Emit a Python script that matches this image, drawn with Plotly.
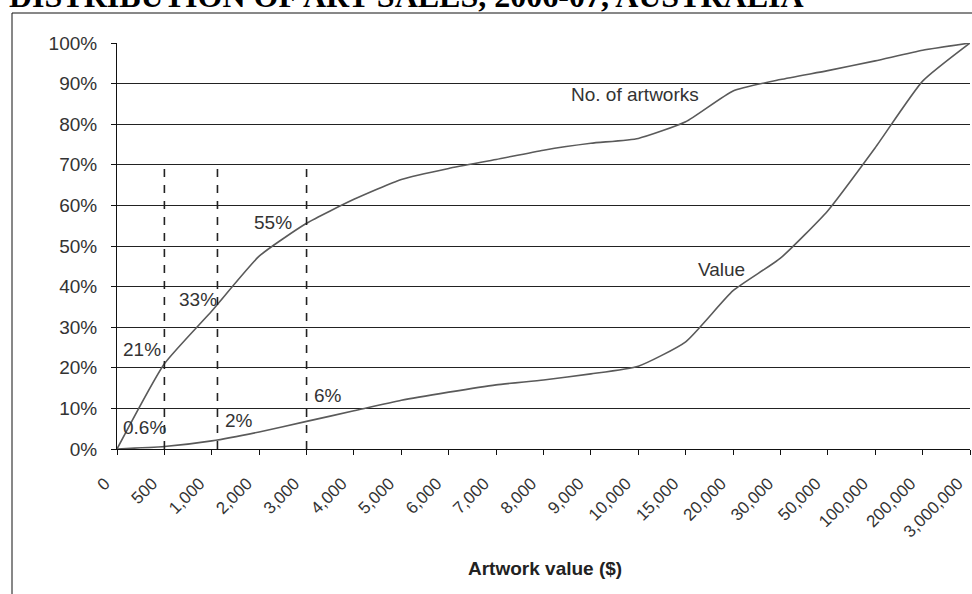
import plotly.graph_objects as go

categories = ["0", "500", "1,000", "2,000", "3,000", "4,000", "5,000", "6,000", "7,000",
              "8,000", "9,000", "10,000", "15,000", "20,000", "30,000", "50,000",
              "100,000", "200,000", "3,000,000"]
no_of_artworks = [0, 21, 34, 47.5, 55.6, 61.5, 66.4, 69.1, 71.3, 73.6, 75.3, 76.5,
                  80.6, 88.2, 91, 93.2, 95.6, 98.2, 100]
value_share = [0, 0.6, 2, 4.2, 6.8, 9.4, 12, 14, 15.8, 17, 18.5, 20.4,
               26.4, 39, 47, 58.7, 74.2, 90.6, 100]
y_ticks = [0, 10, 20, 30, 40, 50, 60, 70, 80, 90, 100]
y_ticktext = [f"{v}%" for v in y_ticks]
marked_categories = ["500", "1,000", "3,000"]
marked_cut = 70

title_text = "DISTRIBUTION OF ART SALES, 2006-07, AUSTRALIA"
x_title = "Artwork value ($)"

W, H = 972, 594
L, R, T, B = 117, 2, 43, 145
pw, ph = W - L - R, H - T - B

def px_to_paper_x(px):
    return (px - L) / pw

def px_to_paper_y(py):
    return (H - B - py) / ph

idx = list(range(len(categories)))
FONT = "Liberation Sans, Arial, sans-serif"

fig = go.Figure()
line_color = "#5a5a5a"
fig.add_trace(go.Scatter(x=idx, y=no_of_artworks, mode="lines", name="No. of artworks",
                         line=dict(color=line_color, width=1.6, shape="spline", smoothing=0.5),
                         cliponaxis=False))
fig.add_trace(go.Scatter(x=idx, y=value_share, mode="lines", name="Value",
                         line=dict(color=line_color, width=1.6, shape="spline", smoothing=0.5),
                         cliponaxis=False))

# dashed marker lines
offsets = {"500": 0.0, "1,000": 0.12, "3,000": 0.0}
for c in marked_categories:
    xi = categories.index(c) + offsets[c]
    fig.add_shape(type="line", xref="x", yref="y", x0=xi, x1=xi, y0=0, y1=marked_cut,
                  line=dict(color="#222", width=1.6, dash="8px,8px"))

# outer frame
fig.add_shape(type="rect", xref="paper", yref="paper",
              x0=px_to_paper_x(12), x1=px_to_paper_x(1000),
              y0=px_to_paper_y(640), y1=px_to_paper_y(13),
              line=dict(color="#111", width=1), fillcolor="rgba(0,0,0,0)", layer="below")

afont = dict(family=FONT, size=19, color="#333")
labels = [
    ("No. of artworks", 10.93, 87.4),
    ("Value", 12.75, 44.1),
    ("55%", 3.29, 55.9),
    ("33%", 1.71, 36.9),
    ("21%", 0.53, 24.4),
    ("6%", 4.45, 13.1),
    ("2%", 2.57, 7.1),
    ("0.6%", 0.59, 5.2),
]
for text, x, y in labels:
    fig.add_annotation(text=text, x=x, y=y, xref="x", yref="y", showarrow=False,
                       font=afont, xanchor="center", yanchor="middle")

fig.add_annotation(text="<b>" + x_title + "</b>", xref="paper", yref="paper",
                   x=px_to_paper_x(545), y=px_to_paper_y(568), showarrow=False,
                   font=dict(family=FONT, size=19, color="#222"),
                   xanchor="center", yanchor="middle")

fig.add_annotation(text="<b>" + title_text + "</b>", xref="paper", yref="paper",
                   x=px_to_paper_x(7), y=px_to_paper_y(16), showarrow=False,
                   font=dict(family="Liberation Serif, Times New Roman, serif", size=32, color="#000"),
                   xanchor="left", yanchor="bottom")

fig.update_layout(
    width=W, height=H,
    margin=dict(l=L, r=R, t=T, b=B, pad=0),
    paper_bgcolor="white", plot_bgcolor="white",
    showlegend=False,
    xaxis=dict(range=[0, len(categories) - 1], tickmode="array", tickvals=idx,
               ticktext=categories, tickangle=-45, showgrid=False, zeroline=False,
               showline=True, linecolor="#111", linewidth=1, ticks="outside",
               ticklen=5, tickcolor="#111", ticklabelstandoff=12, ticklabelshift=-12,
               ticklabeloverflow="allow", automargin=False,
               tickfont=dict(family=FONT, size=17, color="#333")),
    yaxis=dict(range=[0, 100], tickmode="array", tickvals=y_ticks, ticktext=y_ticktext,
               showgrid=True, gridcolor="#222", gridwidth=1, zeroline=False,
               showline=True, linecolor="#111", linewidth=1, ticks="outside",
               ticklen=5, tickcolor="#111", ticklabelstandoff=10, automargin=False,
               tickfont=dict(family=FONT, size=19, color="#333")),
)

fig.write_html("out.html")
